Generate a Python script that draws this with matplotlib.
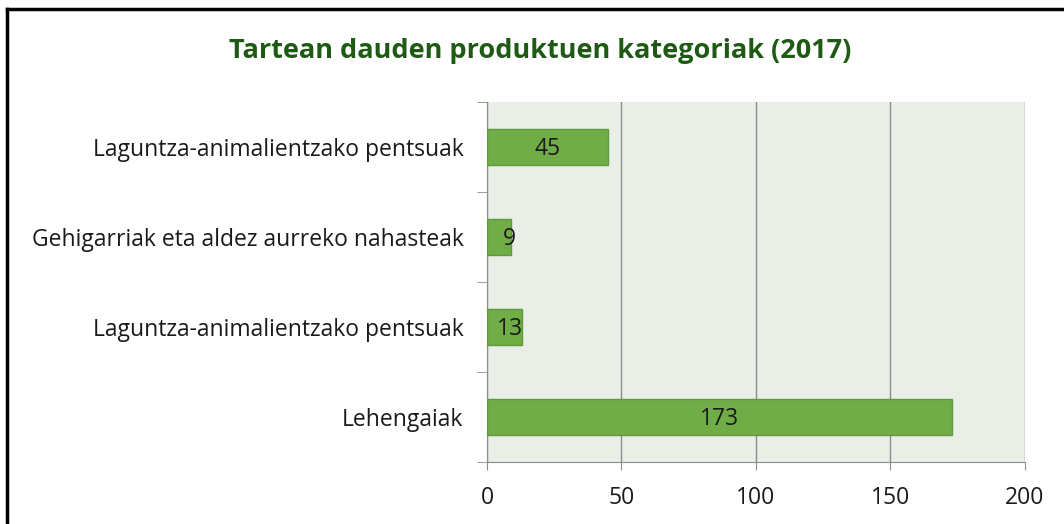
import matplotlib.pyplot as plt
from matplotlib.lines import Line2D

plt.rcParams["font.family"] = ["Open Sans", "DejaVu Sans"]

categories = [
    "Laguntza-animalientzako pentsuak",
    "Gehigarriak eta aldez aurreko nahasteak",
    "Laguntza-animalientzako pentsuak",
    "Lehengaiak",
]
values = [45, 9, 13, 173]
x_ticks = [0, 50, 100, 150, 200]
title = "Tartean dauden produktuen kategoriak (2017)"

bar_color = "#70AD47"
edge_color = "#5E9A3A"
grid_color = "#8C8C8C"
text_color = "#1a1a1a"

fig = plt.figure(figsize=(10.64, 5.24), dpi=100)
ax = fig.add_axes([0.4577, 0.1183, 0.5056, 0.687])
ax.set_facecolor("#E9EEE7")

pos = list(range(len(categories)))
ax.barh(pos, values, height=0.4, color=bar_color, edgecolor=edge_color,
        linewidth=1, zorder=3)
for p, v in zip(pos, values):
    # short bars: label is pushed a little off the axis, as in the original
    ax.text(max(v / 2, 8.5), p + 0.02, str(v), ha="center", va="center",
            fontsize=16.5, color=text_color, zorder=4)

ax.set_xlim(0, 200)
ax.set_ylim(len(categories) - 0.5, -0.5)
ax.set_xticks(x_ticks)
ax.set_xticklabels([str(t) for t in x_ticks], fontsize=16.5, color=text_color)
ax.set_yticks(pos)
ax.set_yticklabels(categories, fontsize=16.5, color=text_color)
ax.set_yticks([p - 0.5 for p in pos] + [len(categories) - 0.5], minor=True)
ax.tick_params(axis="y", which="major", length=0, pad=17)
ax.tick_params(axis="y", which="minor", length=7, color=grid_color)
ax.tick_params(axis="x", length=6, color=grid_color, pad=11)

ax.grid(axis="x", color=grid_color, linewidth=1, zorder=0)
for s in ["top", "right"]:
    ax.spines[s].set_visible(False)
for s in ["left", "bottom"]:
    ax.spines[s].set_color(grid_color)

fig.text(0.508, 0.902, title, ha="center", va="center", fontsize=19.5,
         fontweight="bold", color="#1E5A14")

# outer frame: top and left edges only
fig.add_artist(Line2D([7 / 1064, 1], [1 - 9 / 524, 1 - 9 / 524],
                      color="black", linewidth=2.5, transform=fig.transFigure))
fig.add_artist(Line2D([7 / 1064, 7 / 1064], [0, 1 - 9 / 524],
                      color="black", linewidth=2.5, transform=fig.transFigure))

fig.savefig("out.png", dpi=100)
